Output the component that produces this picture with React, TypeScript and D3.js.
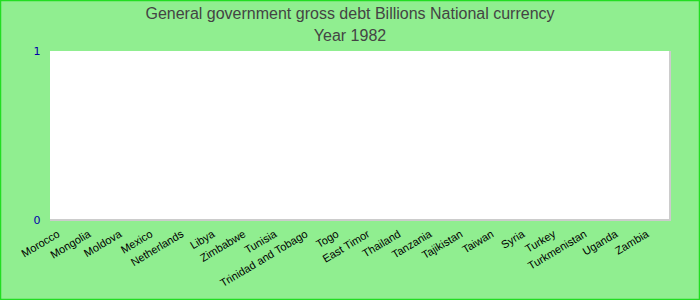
import React from "react";
import * as d3 from "d3";

const categories = ["Morocco","Mongolia","Moldova","Mexico","Netherlands","Libya","Zimbabwe","Tunisia","Trinidad and Tobago","Togo","East Timor","Thailand","Tanzania","Tajikistan","Taiwan","Syria","Turkey","Turkmenistan","Uganda","Zambia"];
const yTicks = [0, 1];
const titleLines = ["General government gross debt Billions National currency", "Year 1982"];

export default function App() {
  const W = 700, H = 300;
  const m = { left: 50, right: 30, top: 51, bottom: 80 };
  const x = d3.scaleBand().domain(categories).range([m.left, W - m.right]);
  const y = d3.scaleLinear().domain([0, 1]).range([H - m.bottom, m.top]);
  return (
    <svg width={W} height={H} style={{ position: "absolute", left: 0, top: 0 }} fontFamily="'Liberation Sans', Arial, sans-serif">
      <rect x={0} y={0} width={W} height={H} fill="#90ee90" />
      <rect x={0.5} y={0.5} width={W - 1} height={H - 1} fill="none" stroke="#22dd22" strokeWidth={1.5} />
      {titleLines.map((t, i) => (
        <text key={t} x={W / 2} y={19 + i * 22} textAnchor="middle" fontSize={16} fill="#444">{t}</text>
      ))}
      <rect x={m.left} y={m.top} width={W - m.left - m.right} height={H - m.bottom - m.top} fill="#fff" />
      <line x1={W - m.right} x2={W - m.right} y1={m.top} y2={H - m.bottom + 1} stroke="#ccc" strokeWidth={2} />
      <line x1={m.left} x2={W - m.right + 1} y1={H - m.bottom} y2={H - m.bottom} stroke="#ccc" strokeWidth={2} />
      {yTicks.map((t) => (
        <text key={t} x={37} y={y(t)} dy="0.35em" textAnchor="middle" fontSize={11} fill="#0000aa" fontFamily="'DejaVu Sans', sans-serif">{t}</text>
      ))}
      {categories.map((c) => {
        const cx = (x(c) as number) + x.bandwidth() / 2 - 5;
        const cy = 236;
        return (
          <text key={c} x={cx} y={cy} textAnchor="end" fontSize={11} fill="#000" transform={`rotate(-31 ${cx} ${cy})`}>{c}</text>
        );
      })}
    </svg>
  );
}
